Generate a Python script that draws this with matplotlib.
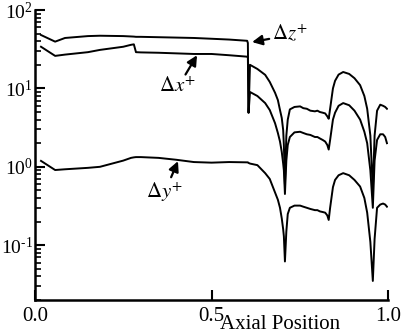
import matplotlib
matplotlib.use("Agg")
import matplotlib.pyplot as plt
import numpy as np

plt.rcParams['font.family'] = ['Liberation Serif', 'DejaVu Serif']
plt.rcParams['mathtext.fontset'] = 'stix'
plt.rcParams['axes.unicode_minus'] = False

# axial position, shared by all three curves
x = [0.017, 0.057, 0.085, 0.15, 0.184, 0.25, 0.272, 0.28, 0.286, 0.3, 0.35, 0.4,
     0.45, 0.5, 0.55, 0.601, 0.603, 0.605, 0.609, 0.63, 0.652, 0.665, 0.68, 0.688,
     0.694, 0.699, 0.703, 0.705, 0.708, 0.712, 0.716, 0.722, 0.735, 0.751, 0.76,
     0.77, 0.78, 0.793, 0.8, 0.807, 0.815, 0.822, 0.828, 0.832, 0.836, 0.844, 0.85,
     0.86, 0.873, 0.89, 0.905, 0.921, 0.933, 0.941, 0.95, 0.957, 0.962, 0.969,
     0.978, 0.986, 0.992, 0.997]

dz = [48, 39.5, 44, 46.5, 47, 46.5, 46, 45.8, 45.5, 45.5, 45, 44.5,
      44, 43, 42, 40.5, 38, 4.9, 20, 17.7, 14.9, 12.1, 8.8, 7.1,
      5.3, 4.2, 2.95, 1.9, 0.6, 2.5, 4.0, 5.4, 5.8, 5.9, 5.6,
      5.5, 5.2, 5.1, 5.2, 5.0, 4.9, 4.8, 4.4, 4.1, 5.5, 10, 12.5,
      15, 16.2, 15.3, 13.5, 11, 8, 5.5, 2.5, 0.5, 2.5, 5.2,
      6.2, 6.0, 5.8, 5.5]

dx = [34, 26, 27, 29, 31, 34, 36, 36.5, 29, 28.8, 28.5, 28,
      27.5, 27.5, 26.5, 25.4, 25, 4.9, 9.0, 8.0, 6.5, 5.3, 3.6, 2.7,
      2.1, 1.55, 1.1, 0.9, 0.45, 1.2, 1.9, 2.4, 2.75, 2.8, 2.7,
      2.6, 2.55, 2.4, 2.4, 2.3, 2.2, 2.1, 1.9, 1.66, 2.2, 4.0, 4.9,
      6.0, 6.5, 6.1, 5.2, 4.0, 2.8, 2.0, 0.9, 0.3, 1.2, 2.2,
      2.6, 2.6, 2.4, 2.0]

dy = [1.19, 0.91, 0.93, 0.97, 1.0, 1.2, 1.3, 1.32, 1.33, 1.33, 1.3, 1.23,
      1.15, 1.13, 1.15, 1.14, 1.14, 1.12, 1.1, 1.05, 0.83, 0.7, 0.47, 0.38,
      0.3, 0.22, 0.16, 0.13, 0.062, 0.15, 0.25, 0.30, 0.32, 0.32, 0.31,
      0.3, 0.29, 0.28, 0.28, 0.27, 0.265, 0.26, 0.24, 0.21, 0.3, 0.55, 0.68,
      0.78, 0.83, 0.78, 0.68, 0.56, 0.4, 0.26, 0.11, 0.035, 0.12, 0.30,
      0.33, 0.34, 0.33, 0.31]

ytick_vals = [0.1, 1, 10, 100]
ytick_labels = [r'$\mathdefault{10^{\text{-}1}}$', r'$\mathdefault{10^{0}}$',
                r'$\mathdefault{10^{1}}$', r'$\mathdefault{10^{2}}$']

fig = plt.figure(figsize=(4.01, 3.34), dpi=100)
ax = fig.add_axes([0.0873, 0.1018, 0.8803, 0.8682])

for series in (dz, dx, dy):
    ax.plot(x, series, color='black', lw=1.4)

ax.set_yscale('log')
ax.set_xlim(0, 1.0)
ax.set_ylim(0.02, 100)
ax.set_xticks([0.0, 0.5, 1.0])
ax.set_xticklabels(['0.0', '0.5', '1.0'])
ax.set_yticks(ytick_vals)
ax.set_yticklabels(ytick_labels)

ax.spines['top'].set_visible(False)
ax.spines['right'].set_visible(False)
ax.spines['left'].set_linewidth(1.8)
ax.spines['bottom'].set_linewidth(1.8)
ax.tick_params(which='major', direction='in', length=7, width=1.5, labelsize=15)
ax.tick_params(which='minor', direction='in', length=4, width=1.2)
ax.tick_params(axis='x', pad=5)
ax.tick_params(axis='y', pad=1.5, labelsize=14)

ax.text(0.694, -0.086, 'Axial Position', transform=ax.transAxes,
        ha='center', va='center', fontsize=15)

arrow = dict(arrowstyle='-|>', color='black', lw=1.6, mutation_scale=15,
             shrinkA=0, shrinkB=0)
ax.annotate(r'$\Delta z^{+}$', xy=(0.615, 39), xytext=(0.722, 48),
            ha='center', va='center', fontsize=15, arrowprops=arrow)
ax.annotate(r'$\Delta x^{+}$', xy=(0.459, 26.5), xytext=(0.405, 10.4),
            ha='center', va='center', fontsize=15, arrowprops=arrow)
ax.annotate(r'$\Delta y^{+}$', xy=(0.405, 1.18), xytext=(0.368, 0.48),
            ha='center', va='center', fontsize=15, arrowprops=arrow)

fig.savefig('out.png', dpi=100)
